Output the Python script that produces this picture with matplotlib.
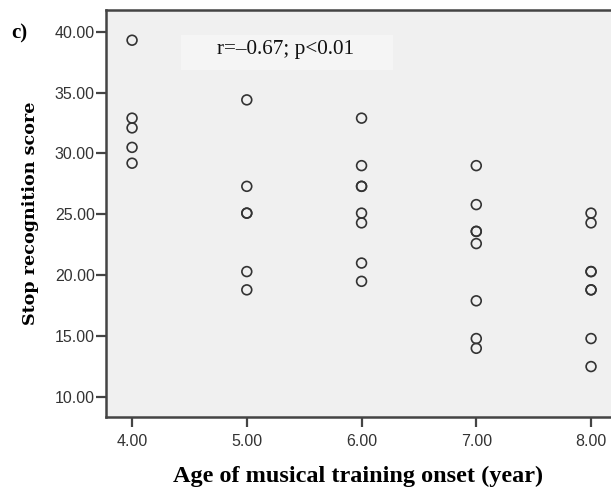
import matplotlib
matplotlib.use('Agg')
import matplotlib.pyplot as plt
from matplotlib.patches import Rectangle

# onset age (years) and stop recognition scores, one entry per subject
onset_age = [4, 4, 4, 4, 4,
             5, 5, 5, 5, 5, 5,
             6, 6, 6, 6, 6, 6, 6, 6,
             7, 7, 7, 7, 7, 7, 7, 7,
             8, 8, 8, 8, 8, 8, 8, 8]
score = [39.3, 32.9, 32.1, 30.5, 29.2,
         34.4, 27.3, 25.1, 25.1, 20.3, 18.8,
         32.9, 29.0, 27.3, 27.3, 25.1, 24.3, 21.0, 19.5,
         29.0, 25.8, 23.6, 23.6, 22.6, 17.9, 14.8, 14.0,
         25.1, 24.3, 20.3, 20.3, 18.8, 18.8, 14.8, 12.5]

x_ticks = [4, 5, 6, 7, 8]
y_ticks = [10, 15, 20, 25, 30, 35, 40]
stat_text = 'r=\u20130.67; p<0.01'

fig = plt.figure(figsize=(6.11, 4.93), dpi=100)
ax = fig.add_axes([0.1735, 0.1542, 0.8265, 0.8255])
ax.set_facecolor('#f0f0f0')

ax.scatter(onset_age, score, s=50, facecolors='none', edgecolors='#333333',
           linewidths=1.2, zorder=3)

ax.set_xlim(3.773, 8.174)
ax.set_ylim(8.36, 41.78)
ax.set_xticks(x_ticks)
ax.set_xticklabels(['%.2f' % v for v in x_ticks])
ax.set_yticks(y_ticks)
ax.set_yticklabels(['%.2f' % v for v in y_ticks])

for side in ['left', 'bottom', 'top']:
    ax.spines[side].set_color('#444444')
    ax.spines[side].set_linewidth(1.8)
ax.spines['right'].set_visible(False)
ax.tick_params(axis='both', length=7, width=1.6, color='#444444',
               labelsize=11.5, labelcolor='#333333', pad=1)
for lab in ax.get_xticklabels() + ax.get_yticklabels():
    lab.set_family('Liberation Sans')
ax.tick_params(axis='x', pad=5)

# light box behind the correlation text
ax.add_patch(Rectangle((0.1485, 0.853), 0.4195, 0.086, transform=ax.transAxes,
                       facecolor='#f5f5f5', edgecolor='none', zorder=1))
ax.text(0.355, 0.904, stat_text, transform=ax.transAxes, ha='center', va='center',
        family='Liberation Serif', fontsize=15.3, color='#111111', zorder=4)

ax.set_xlabel('Age of musical training onset (year)', family='Liberation Serif',
              fontweight='bold', fontsize=17.5, labelpad=12)
ax.set_ylabel('Stop recognition score', family='DejaVu Serif',
              fontweight='bold', fontsize=12.6, labelpad=11)

fig.text(0.032, 0.933, 'c)', family='Liberation Serif', fontweight='bold',
         fontsize=15, ha='center', va='center')

plt.savefig('out.png', dpi=100)
